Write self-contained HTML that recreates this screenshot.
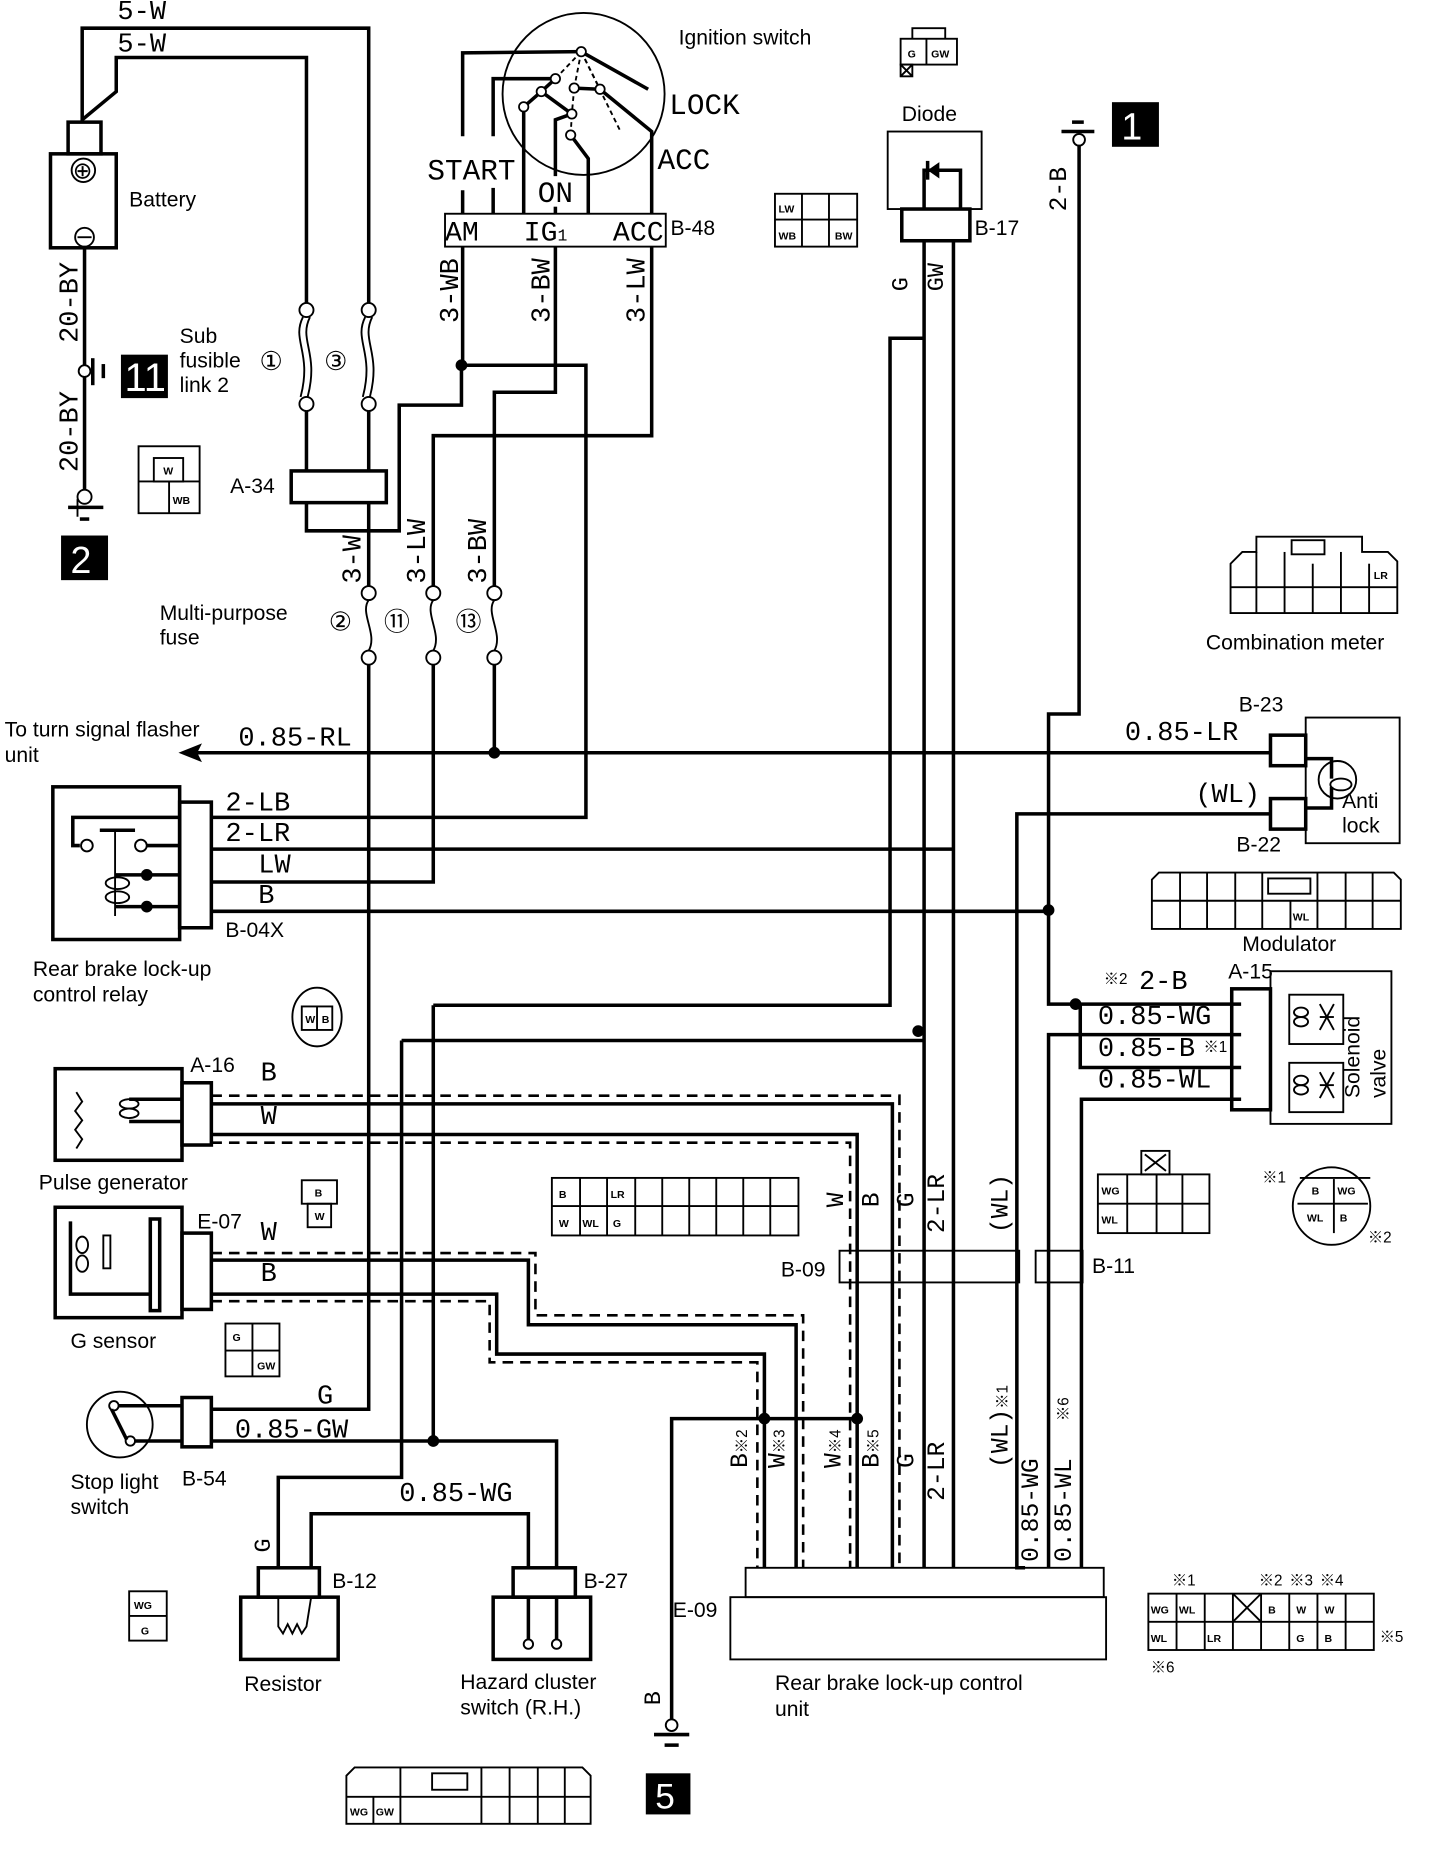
<!DOCTYPE html>
<html><head><meta charset="utf-8"><style>
html,body{margin:0;padding:0;background:#fff;}
svg{display:block}
.w{fill:none;stroke:#000;stroke-width:3}
.t{fill:none;stroke:#000;stroke-width:1.6}
.d{fill:none;stroke:#000;stroke-width:2.2;stroke-dasharray:9 6}
.m{font-family:"Liberation Mono",monospace;font-size:23px;fill:#000}
.s{font-family:"Liberation Sans",sans-serif;font-size:18px;fill:#000}
.x{font-family:"Liberation Sans",sans-serif;font-size:9px;font-weight:bold;fill:#000}
.k{font-family:"Liberation Sans","Noto Sans CJK JP",sans-serif;font-size:13px;fill:#000}
</style></head><body>
<svg width="1456" height="1852" viewBox="0 0 1240 1577" preserveAspectRatio="none" xmlns="http://www.w3.org/2000/svg">
<rect width="1240" height="1577" fill="#fff"/>
<text class="m" x="100" y="16">5-W</text>
<text class="m" x="100" y="44">5-W</text>
<polyline class="w" points="70,104 70,24 314,24 314,258"/>
<polyline class="w" points="70,102 99,78 99,49 261,49 261,258"/>
<rect class="w" x="58" y="104" width="28" height="27"/>
<rect class="w" x="43" y="131" width="56" height="80"/>
<circle class="t" cx="71" cy="145" r="10"/><text class="s" x="62" y="152" style="font-size:20px">⊕</text>
<circle class="t" cx="72" cy="202" r="8"/><line class="t" x1="66" y1="202" x2="78" y2="202"/>
<text class="s" x="110" y="176">Battery</text>
<line class="w" x1="72" y1="211" x2="72" y2="311"/><line class="w" x1="72" y1="321" x2="72" y2="417"/>
<circle class="t" cx="72" cy="316" r="5"/><line class="w" x1="79" y1="305" x2="79" y2="328"/><line class="w" x1="88" y1="310" x2="88" y2="322"/>
<rect x="103" y="302" width="40" height="37" fill="#000"/><text x="106" y="333" style="font-family:'Liberation Sans',sans-serif;font-size:34px;fill:#fff">11</text>
<text class="s" x="153" y="292">Sub</text><text class="s" x="153" y="313">fusible</text><text class="s" x="153" y="334">link 2</text>
<text class="s" x="221" y="315" style="font-size:22px">①</text><text class="s" x="276" y="315" style="font-size:22px">③</text>
<text class="m" transform="translate(66,292) rotate(-90)">20-BY</text>
<text class="m" transform="translate(66,402) rotate(-90)">20-BY</text>
<circle class="t" cx="72" cy="423" r="6"/><line class="w" x1="58" y1="432" x2="88" y2="432"/><line class="w" x1="68" y1="442" x2="76" y2="442"/><line class="t" x1="66" y1="425" x2="66" y2="440"/>
<rect x="52" y="456" width="40" height="38" fill="#000"/><text x="60" y="488" style="font-family:'Liberation Sans',sans-serif;font-size:32px;fill:#fff">2</text>
<g class="t"><circle cx="261" cy="264" r="6"/><circle cx="261" cy="344" r="6"/><circle cx="314" cy="264" r="6"/><circle cx="314" cy="344" r="6"/></g>
<path class="t" d="M258,270 C248,290 266,300 256,338 M264,270 C254,290 272,300 262,338 M311,270 C301,290 319,300 309,338 M317,270 C307,290 325,300 315,338"/>
<line class="w" x1="261" y1="350" x2="261" y2="401"/><line class="w" x1="314" y1="350" x2="314" y2="401"/>
<rect class="w" x="248" y="401" width="81" height="27"/>
<text class="s" x="196" y="420">A-34</text>
<polyline class="w" points="261,428 261,452 340,452 340,345 393,345 393,311"/>
<polyline class="w" points="314,428 314,499"/><polyline class="w" points="314,566 314,1200 180,1200"/>
<circle class="t" cx="497" cy="80" r="69"/>
<text class="s" x="578" y="38">Ignition switch</text>
<text class="m" x="570" y="97" style="font-size:25px">LOCK</text>
<text class="m" x="560" y="144" style="font-size:25px">ACC</text>
<text class="m" x="364" y="153" style="font-size:25px">START</text>
<text class="m" x="458" y="172" style="font-size:25px">ON</text>
<polyline class="w" points="394,116 394,45 495,44"/><line class="w" x1="394" y1="162" x2="394" y2="182"/>
<polyline class="w" points="420,116 420,67 473,67"/><line class="w" x1="420" y1="160" x2="420" y2="182"/>
<polyline class="w" points="446,182 446,91 461,78 473,67"/>
<polyline class="w" points="473,150 473,102 487,97"/><line class="w" x1="473" y1="176" x2="473" y2="182"/>
<polyline class="w" points="501,182 501,135 486,115"/>
<polyline class="w" points="555,182 555,112 511,76"/>
<line class="w" x1="495" y1="44" x2="552" y2="76"/>
<line class="w" x1="461" y1="78" x2="487" y2="97"/><line class="w" x1="489" y1="75" x2="511" y2="76"/>
<g class="t" stroke-dasharray="4 3"><line x1="495" y1="44" x2="473" y2="67"/><line x1="495" y1="44" x2="489" y2="75"/><line x1="495" y1="44" x2="511" y2="76"/><line x1="495" y1="44" x2="528" y2="111"/><line x1="489" y1="75" x2="487" y2="97"/><line x1="487" y1="97" x2="486" y2="115"/></g>
<g fill="#fff" stroke="#000" stroke-width="1.5"><circle cx="495" cy="44" r="4"/><circle cx="473" cy="67" r="4"/><circle cx="461" cy="78" r="4"/><circle cx="446" cy="91" r="4"/><circle cx="489" cy="75" r="4"/><circle cx="511" cy="76" r="4"/><circle cx="487" cy="97" r="4"/><circle cx="486" cy="115" r="4"/></g>
<rect class="t" x="379" y="182" width="188" height="28"/>
<text class="m" x="379" y="205" style="font-size:24px">AM</text><text class="m" x="446" y="205" style="font-size:24px">IG<tspan style="font-size:14px">1</tspan></text><text class="m" x="522" y="205" style="font-size:24px">ACC</text>
<text class="s" x="571" y="200">B-48</text>
<text class="m" transform="translate(390,275) rotate(-90)">3-WB</text>
<text class="m" transform="translate(468,275) rotate(-90)">3-BW</text>
<text class="m" transform="translate(549,275) rotate(-90)">3-LW</text>
<polyline class="w" points="394,210 394,311 499,311 499,696 180,696"/>
<polyline class="w" points="473,210 473,334 421,334 421,499"/><polyline class="w" points="421,566 421,641"/>
<polyline class="w" points="555,210 555,371 369,371 369,499"/><polyline class="w" points="369,566 369,751 180,751"/>
<text class="m" transform="translate(307,497) rotate(-90)">3-W</text>
<text class="m" transform="translate(362,497) rotate(-90)">3-LW</text>
<text class="m" transform="translate(414,497) rotate(-90)">3-BW</text>
<g class="t"><circle cx="314" cy="505" r="6"/><circle cx="314" cy="560" r="6"/><circle cx="369" cy="505" r="6"/><circle cx="369" cy="560" r="6"/><circle cx="421" cy="505" r="6"/><circle cx="421" cy="560" r="6"/></g>
<path class="t" d="M314,511 C306,522 322,540 314,554 M369,511 C361,522 377,540 369,554 M421,511 C413,522 429,540 421,554"/>
<text class="s" x="136" y="528">Multi-purpose</text><text class="s" x="136" y="549">fuse</text>
<text class="s" x="280" y="537" style="font-size:22px">②</text><text class="s" x="327" y="537" style="font-size:22px">⑪</text><text class="s" x="388" y="537" style="font-size:22px">⑬</text>
<text class="s" x="768" y="103">Diode</text>
<rect class="t" x="756" y="112" width="80" height="66"/>
<rect class="w" x="768" y="178" width="58" height="27"/>
<polyline class="w" points="787,178 787,145 818,145 818,178"/><path d="M790,138 L790,152 L800,145Z" fill="#000" transform="rotate(180 795 145)"/><line class="w" x1="790" y1="137" x2="790" y2="153"/>
<text class="s" x="830" y="200">B-17</text>
<text class="m" transform="translate(773,248) rotate(-90)" style="font-size:20px">G</text>
<text class="m" transform="translate(803,248) rotate(-90)" style="font-size:20px">GW</text>
<polyline class="w" points="787,205 787,1335"/>
<polyline class="w" points="787,288 758,288 758,856 369,856"/>
<polyline class="w" points="812,205 812,1335"/>
<rect x="947" y="87" width="40" height="38" fill="#000"/><text x="955" y="119" style="font-family:'Liberation Sans',sans-serif;font-size:32px;fill:#fff">1</text>
<line class="w" x1="904" y1="112" x2="932" y2="112"/><line class="w" x1="913" y1="104" x2="923" y2="104"/><circle class="t" cx="919" cy="119" r="5"/>
<text class="m" transform="translate(908,180) rotate(-90)" style="font-size:21px">2-B</text>
<polyline class="w" points="919,124 919,608 893,608 893,855 1057,855"/>
<polyline class="w" points="920,855 920,909 1057,909"/>
<polyline class="w" points="893,1335 893,881 1057,881"/>
<polyline class="w" points="921,1335 921,936 1057,936"/>
<polyline class="w" points="873,1335 866,1335 866,693 1082,693"/>
<line class="w" x1="180" y1="776" x2="893" y2="776"/>
<polyline class="w" points="180,723 812,723"/>
<line class="w" x1="165" y1="641" x2="1082" y2="641"/><path d="M152,641 L172,633 L168,641 L172,649Z" fill="#000"/>
<text class="s" x="4" y="627">To turn signal flasher</text><text class="s" x="4" y="649">unit</text>
<text class="m" x="203" y="635">0.85-RL</text>
<text class="m" x="958" y="630">0.85-LR</text>
<text class="m" x="1018" y="683">(WL)</text>
<rect class="t" x="1112" y="611" width="80" height="107"/>
<rect class="w" x="1082" y="626" width="30" height="26"/><rect class="w" x="1082" y="680" width="30" height="26"/>
<polyline class="w" points="1112,646 1134,646 1134,663"/><polyline class="w" points="1112,688 1134,688 1134,670"/>
<circle class="t" cx="1139" cy="664" r="16"/><ellipse class="t" cx="1142" cy="668" rx="9" ry="5"/>
<text class="s" x="1143" y="688">Anti</text><text class="s" x="1143" y="709">lock</text>
<text class="s" x="1055" y="606">B-23</text><text class="s" x="1053" y="725">B-22</text>
<path class="t" d="M981,791 L981,749 L987,743 L1187,743 L1193,749 L1193,791Z"/>
<g class="t"><line x1="981" y1="767" x2="1193" y2="767"/><line x1="1005" y1="743" x2="1005" y2="791"/><line x1="1028" y1="743" x2="1028" y2="791"/><line x1="1052" y1="743" x2="1052" y2="791"/><line x1="1075" y1="743" x2="1075" y2="791"/><line x1="1099" y1="767" x2="1099" y2="791"/><line x1="1122" y1="743" x2="1122" y2="791"/><line x1="1146" y1="743" x2="1146" y2="791"/><line x1="1169" y1="743" x2="1169" y2="791"/><rect x="1080" y="748" width="36" height="13"/></g>
<text class="x" x="1101" y="784">WL</text>
<text class="s" x="1058" y="810">Modulator</text>
<path class="t" d="M1048,522 L1048,480 L1058,470 L1070,470 L1070,457 L1160,457 L1160,470 L1182,470 L1190,478 L1190,522Z"/>
<g class="t"><line x1="1048" y1="500" x2="1190" y2="500"/><line x1="1070" y1="470" x2="1070" y2="522"/><line x1="1094" y1="470" x2="1094" y2="522"/><line x1="1118" y1="480" x2="1118" y2="522"/><line x1="1142" y1="470" x2="1142" y2="522"/><line x1="1166" y1="480" x2="1166" y2="522"/><rect x="1100" y="460" width="28" height="12"/></g>
<text class="x" x="1170" y="493">LR</text>
<text class="s" x="1027" y="553">Combination meter</text>
<rect class="t" x="1082" y="827" width="103" height="130"/>
<rect class="w" x="1049" y="842" width="33" height="103"/>
<rect class="t" x="1098" y="847" width="46" height="42"/><rect class="t" x="1098" y="905" width="46" height="42"/>
<g class="t"><ellipse cx="1108" cy="862" rx="6" ry="4"/><ellipse cx="1108" cy="870" rx="6" ry="4"/><line x1="1124" y1="855" x2="1136" y2="877"/><line x1="1136" y1="855" x2="1124" y2="877"/><line x1="1124" y1="866" x2="1136" y2="866"/>
<ellipse cx="1108" cy="920" rx="6" ry="4"/><ellipse cx="1108" cy="928" rx="6" ry="4"/><line x1="1124" y1="913" x2="1136" y2="935"/><line x1="1136" y1="913" x2="1124" y2="935"/><line x1="1124" y1="924" x2="1136" y2="924"/></g>
<text class="s" transform="translate(1158,935) rotate(-90)">Solenoid</text><text class="s" transform="translate(1180,935) rotate(-90)">valve</text>
<text class="s" x="1046" y="833">A-15</text>
<text class="k" x="940" y="838">※2</text><text class="m" x="970" y="842">2-B</text>
<text class="m" x="935" y="872">0.85-WG</text><text class="m" x="935" y="899">0.85-B</text><text class="k" x="1025" y="896">※1</text><text class="m" x="935" y="926">0.85-WL</text>
<rect class="w" x="45" y="670" width="108" height="130"/>
<rect class="w" x="153" y="683" width="27" height="107"/>
<polyline class="w" points="153,696 62,696 62,720 68,720"/>
<circle class="t" cx="74" cy="720" r="5"/><circle class="t" cx="120" cy="720" r="5"/><line class="w" x1="125" y1="720" x2="153" y2="720"/>
<line class="w" x1="85" y1="707" x2="115" y2="707"/><line class="t" x1="98" y1="707" x2="98" y2="780"/>
<line class="w" x1="98" y1="745" x2="153" y2="745"/><line class="w" x1="98" y1="772" x2="153" y2="772"/>
<circle cx="125" cy="745" r="5"/><circle cx="125" cy="772" r="5"/>
<ellipse class="t" cx="100" cy="752" rx="10" ry="5"/><ellipse class="t" cx="100" cy="764" rx="10" ry="5"/>
<text class="m" x="192" y="690">2-LB</text><text class="m" x="192" y="716">2-LR</text><text class="m" x="220" y="743">LW</text><text class="m" x="220" y="769">B</text>
<text class="s" x="192" y="798">B-04X</text>
<text class="s" x="28" y="831">Rear brake lock-up</text><text class="s" x="28" y="853">control relay</text>
<rect class="w" x="47" y="910" width="108" height="78"/>
<rect class="w" x="155" y="922" width="25" height="53"/>
<path class="t" d="M65,930 l5,8 l-6,8 l6,8 l-6,8 l6,8 l-5,8"/>
<ellipse class="t" cx="110" cy="940" rx="8" ry="4"/><ellipse class="t" cx="110" cy="948" rx="8" ry="4"/><polyline class="w" points="110,936 120,936 155,936"/><line class="w" x1="110" y1="955" x2="155" y2="955"/>
<text class="s" x="162" y="913">A-16</text><text class="m" x="222" y="920">B</text><text class="m" x="222" y="957">W</text>
<text class="s" x="33" y="1013">Pulse generator</text>
<polyline class="d" points="180,933 766,933 766,1335"/>
<polyline class="w" points="180,940 760,940 760,1335"/>
<polyline class="w" points="180,966 730,966 730,1335"/>
<polyline class="d" points="180,973 724,973 724,1335"/>
<rect class="w" x="47" y="1028" width="108" height="94"/>
<rect class="w" x="155" y="1050" width="25" height="65"/>
<rect class="w" x="128" y="1038" width="8" height="78"/>
<polyline class="w" points="60,1040 60,1102 128,1102"/>
<ellipse class="t" cx="70" cy="1060" rx="5" ry="7"/><ellipse class="t" cx="70" cy="1076" rx="5" ry="7"/><rect class="t" x="88" y="1052" width="6" height="28"/>
<text class="s" x="168" y="1046">E-07</text><text class="m" x="222" y="1056">W</text><text class="m" x="222" y="1091">B</text>
<text class="s" x="60" y="1148">G sensor</text>
<polyline class="d" points="180,1067 456,1067 456,1120 684,1120 684,1335"/>
<polyline class="w" points="180,1073 450,1073 450,1128 678,1128 678,1335"/>
<polyline class="w" points="180,1102 423,1102 423,1153 651,1153 651,1335"/>
<polyline class="d" points="180,1108 417,1108 417,1160 645,1160 645,1335"/>
<circle class="t" cx="102" cy="1213" r="28"/>
<circle class="t" cx="97" cy="1197" r="4"/><circle class="t" cx="111" cy="1227" r="4"/><line class="w" x1="95" y1="1200" x2="108" y2="1226"/>
<line class="w" x1="101" y1="1197" x2="155" y2="1197"/><line class="w" x1="115" y1="1227" x2="155" y2="1227"/>
<rect class="w" x="155" y="1190" width="25" height="42"/>
<text class="m" x="270" y="1195">G</text><text class="m" x="200" y="1224">0.85-GW</text>
<polyline class="w" points="180,1227 474,1227 474,1335"/>
<polyline class="w" points="369,856 369,1227"/>
<polyline class="w" points="342,886 786,886"/>
<polyline class="w" points="342,886 342,1258 237,1258 237,1335"/>
<polyline class="w" points="265,1335 265,1289 450,1289 450,1335"/>
<text class="m" x="340" y="1278">0.85-WG</text>
<text class="m" transform="translate(230,1322) rotate(-90)" style="font-size:20px">G</text>
<text class="s" x="60" y="1268">Stop light</text><text class="s" x="60" y="1289">switch</text><text class="s" x="155" y="1265">B-54</text>
<rect class="w" x="220" y="1335" width="52" height="25"/><rect class="w" x="205" y="1360" width="83" height="53"/>
<path class="t" d="M237,1360 L237,1385 l4,6 l4,-8 l4,8 l4,-8 l4,8 l4,-6 L265,1360"/>
<rect class="w" x="437" y="1335" width="53" height="25"/><rect class="w" x="420" y="1360" width="83" height="53"/>
<polyline class="w" points="450,1360 450,1396"/><polyline class="w" points="474,1360 474,1396"/><circle class="t" cx="450" cy="1400" r="4"/><circle class="t" cx="474" cy="1400" r="4"/>
<text class="s" x="283" y="1352">B-12</text><text class="s" x="497" y="1352">B-27</text>
<text class="s" x="208" y="1440">Resistor</text>
<text class="s" x="392" y="1438">Hazard cluster</text><text class="s" x="392" y="1460">switch (R.H.)</text>
<polyline class="w" points="730,1208 572,1208 572,1464"/>
<circle cx="651" cy="1208" r="5"/><circle cx="730" cy="1208" r="5"/>
<circle class="t" cx="572" cy="1469" r="5"/><line class="w" x1="557" y1="1477" x2="587" y2="1477"/><line class="w" x1="566" y1="1486" x2="578" y2="1486"/>
<rect x="550" y="1510" width="38" height="35" fill="#000"/><text x="558" y="1540" style="font-family:'Liberation Sans',sans-serif;font-size:30px;fill:#fff">5</text>
<text class="s" x="573" y="1377">E-09</text>
<text class="m" transform="translate(562,1452) rotate(-90)" style="font-size:20px">B</text>
<rect class="t" x="715" y="1065" width="153" height="27" fill="#fff"/><rect class="t" x="882" y="1065" width="40" height="27" fill="#fff"/>
<text class="s" x="665" y="1087">B-09</text><text class="s" x="930" y="1084">B-11</text>
<g class="m" style="font-size:21px">
<text transform="translate(718,1028) rotate(-90)">W</text><text transform="translate(748,1028) rotate(-90)">B</text><text transform="translate(778,1028) rotate(-90)">G</text><text transform="translate(804,1050) rotate(-90)">2-LR</text><text transform="translate(858,1050) rotate(-90)">(WL)</text>
<text transform="translate(636,1250) rotate(-90)">B<tspan class="k" style="font-size:13px">※2</tspan></text>
<text transform="translate(668,1250) rotate(-90)">W<tspan class="k" style="font-size:13px">※3</tspan></text>
<text transform="translate(716,1250) rotate(-90)">W<tspan class="k" style="font-size:13px">※4</tspan></text>
<text transform="translate(748,1250) rotate(-90)">B<tspan class="k" style="font-size:13px">※5</tspan></text>
<text transform="translate(778,1250) rotate(-90)">G</text><text transform="translate(804,1278) rotate(-90)">2-LR</text>
<text transform="translate(858,1250) rotate(-90)">(WL)<tspan class="k" style="font-size:13px">※1</tspan></text>
<text transform="translate(884,1330) rotate(-90)">0.85-WG</text><text transform="translate(912,1330) rotate(-90)">0.85-WL</text>
</g>
<text class="k" transform="translate(910,1210) rotate(-90)">※6</text>
<rect class="t" x="635" y="1335" width="305" height="25" fill="#fff"/><rect class="t" x="622" y="1360" width="320" height="53"/>
<text class="s" x="660" y="1439">Rear brake lock-up control</text><text class="s" x="660" y="1461">unit</text>
<g fill="#000"><circle cx="393" cy="311" r="5"/><circle cx="421" cy="641" r="5"/><circle cx="893" cy="775" r="5"/><circle cx="916" cy="855" r="5"/><circle cx="782" cy="878" r="5"/><circle cx="369" cy="1227" r="5"/></g>
<g class="t">
<rect x="767" y="33" width="48" height="22"/><line x1="789" y1="33" x2="789" y2="55"/><rect x="767" y="55" width="10" height="10"/><line x1="767" y1="55" x2="777" y2="65"/><line x1="777" y1="55" x2="767" y2="65"/><polyline points="777,33 777,24 805,24 805,33"/>
<rect x="660" y="165" width="70" height="45"/><line x1="660" y1="187" x2="730" y2="187"/><line x1="683" y1="165" x2="683" y2="210"/><line x1="706" y1="165" x2="706" y2="210"/>
<rect x="118" y="380" width="52" height="57"/><rect x="131" y="390" width="25" height="20"/><line x1="118" y1="410" x2="170" y2="410"/><line x1="144" y1="410" x2="144" y2="437"/>
<ellipse cx="270" cy="866" rx="21" ry="25"/><rect x="257" y="857" width="26" height="20"/><line x1="270" y1="857" x2="270" y2="877"/>
<rect x="257" y="1005" width="30" height="20"/><rect x="262" y="1025" width="20" height="20"/>
<rect x="470" y="1003" width="210" height="49"/><line x1="470" y1="1027" x2="680" y2="1027"/>
<line x1="494" y1="1003" x2="494" y2="1052"/><line x1="517" y1="1003" x2="517" y2="1052"/><line x1="541" y1="1003" x2="541" y2="1052"/><line x1="564" y1="1003" x2="564" y2="1052"/><line x1="587" y1="1003" x2="587" y2="1052"/><line x1="610" y1="1003" x2="610" y2="1052"/><line x1="633" y1="1003" x2="633" y2="1052"/><line x1="656" y1="1003" x2="656" y2="1052"/>
<rect x="192" y="1127" width="46" height="45"/><line x1="192" y1="1150" x2="238" y2="1150"/><line x1="215" y1="1127" x2="215" y2="1172"/>
<rect x="935" y="1000" width="95" height="50"/><line x1="935" y1="1025" x2="1030" y2="1025"/><line x1="960" y1="1000" x2="960" y2="1050"/><line x1="985" y1="1000" x2="985" y2="1050"/><line x1="1007" y1="1000" x2="1007" y2="1050"/><rect x="972" y="980" width="24" height="20"/><line x1="975" y1="983" x2="993" y2="997"/><line x1="993" y1="983" x2="975" y2="997"/>
<circle cx="1134" cy="1027" r="33"/><line x1="1105" y1="1025" x2="1165" y2="1025"/><line x1="1136" y1="1004" x2="1136" y2="1050"/><line x1="1107" y1="1003" x2="1167" y2="1003"/>
<rect x="110" y="1355" width="32" height="42"/><line x1="110" y1="1376" x2="142" y2="1376"/>
<rect x="978" y="1357" width="192" height="48"/><line x1="978" y1="1381" x2="1170" y2="1381"/>
<line x1="1002" y1="1357" x2="1002" y2="1405"/><line x1="1026" y1="1357" x2="1026" y2="1405"/><line x1="1050" y1="1357" x2="1050" y2="1405"/><line x1="1074" y1="1357" x2="1074" y2="1405"/><line x1="1098" y1="1357" x2="1098" y2="1405"/><line x1="1122" y1="1357" x2="1122" y2="1405"/><line x1="1146" y1="1357" x2="1146" y2="1405"/>
<line x1="1050" y1="1357" x2="1074" y2="1381"/><line x1="1074" y1="1357" x2="1050" y2="1381"/>
<path d="M295,1553 L295,1512 L302,1505 L496,1505 L503,1512 L503,1553Z"/><line x1="295" y1="1530" x2="503" y2="1530"/><line x1="318" y1="1530" x2="318" y2="1553"/><line x1="341" y1="1505" x2="341" y2="1553"/><rect x="368" y="1510" width="30" height="14"/><line x1="410" y1="1505" x2="410" y2="1553"/><line x1="434" y1="1505" x2="434" y2="1553"/><line x1="458" y1="1505" x2="458" y2="1553"/><line x1="481" y1="1505" x2="481" y2="1553"/>
</g>
<g class="x">
<text x="773" y="49">G</text><text x="793" y="49">GW</text>
<text x="663" y="181">LW</text><text x="663" y="204">WB</text><text x="711" y="204">BW</text>
<text x="139" y="404">W</text><text x="147" y="429">WB</text>
<text x="260" y="871">W</text><text x="274" y="871">B</text>
<text x="268" y="1019">B</text><text x="268" y="1039">W</text>
<text x="476" y="1020">B</text><text x="520" y="1020">LR</text><text x="476" y="1045">W</text><text x="496" y="1045">WL</text><text x="522" y="1045">G</text>
<text x="198" y="1142">G</text><text x="219" y="1166">GW</text>
<text x="938" y="1017">WG</text><text x="938" y="1042">WL</text>
<text x="1117" y="1017">B</text><text x="1139" y="1017">WG</text><text x="1113" y="1040">WL</text><text x="1141" y="1040">B</text>
<text x="114" y="1370">WG</text><text x="120" y="1392">G</text>
<text x="980" y="1374">WG</text><text x="1004" y="1374">WL</text><text x="1080" y="1374">B</text><text x="1104" y="1374">W</text><text x="1128" y="1374">W</text>
<text x="980" y="1398">WL</text><text x="1028" y="1398">LR</text><text x="1104" y="1398">G</text><text x="1128" y="1398">B</text>
<text x="298" y="1546">WG</text><text x="320" y="1546">GW</text>
</g>
<g class="k"><text x="1075" y="1007">※1</text><text x="1165" y="1058">※2</text><text x="998" y="1350">※1</text><text x="1072" y="1350">※2</text><text x="1098" y="1350">※3</text><text x="1124" y="1350">※4</text><text x="1175" y="1398">※5</text><text x="980" y="1424">※6</text></g>
</svg>
</body></html>
